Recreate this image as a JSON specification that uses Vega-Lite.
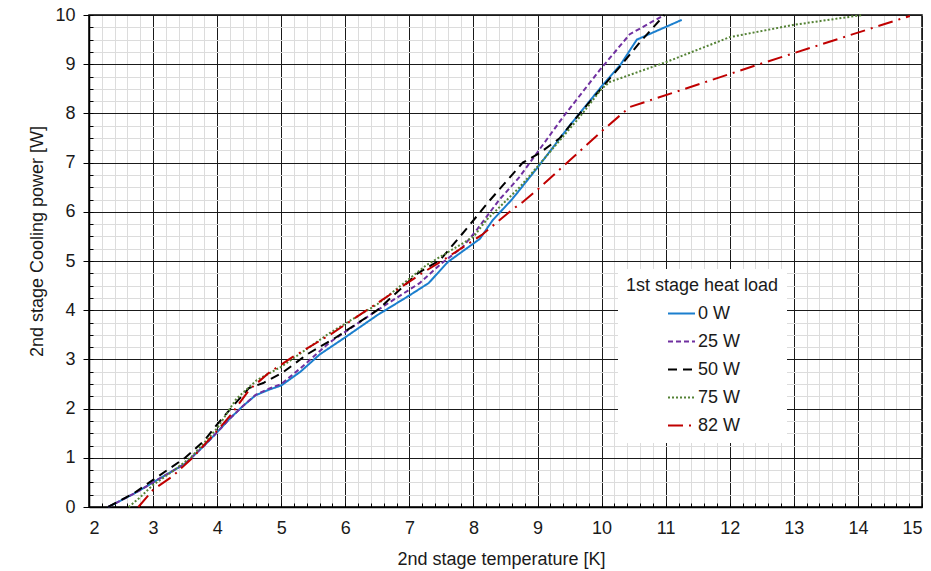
{
  "$schema": "https://vega.github.io/schema/vega-lite/v6.json",
  "width": 833,
  "height": 492,
  "autosize": {"type": "none"},
  "padding": {"left": 89, "top": 15, "right": 9, "bottom": 64},
  "background": "white",
  "config": {
    "font": "Liberation Sans",
    "view": {"stroke": "#000", "strokeWidth": 1.5}
  },
  "data": {
    "values": [
      {"s": "0 W", "o": 1, "t": 2.3, "p": 0},
      {"s": "0 W", "o": 2, "t": 2.7, "p": 0.27},
      {"s": "0 W", "o": 3, "t": 3.0, "p": 0.5},
      {"s": "0 W", "o": 4, "t": 3.5, "p": 0.88},
      {"s": "0 W", "o": 5, "t": 3.8, "p": 1.25},
      {"s": "0 W", "o": 6, "t": 4.0, "p": 1.52},
      {"s": "0 W", "o": 7, "t": 4.2, "p": 1.8},
      {"s": "0 W", "o": 8, "t": 4.4, "p": 2.05},
      {"s": "0 W", "o": 9, "t": 4.6, "p": 2.27},
      {"s": "0 W", "o": 10, "t": 4.8, "p": 2.38},
      {"s": "0 W", "o": 11, "t": 5.0, "p": 2.47},
      {"s": "0 W", "o": 12, "t": 5.3, "p": 2.75},
      {"s": "0 W", "o": 13, "t": 5.6, "p": 3.1},
      {"s": "0 W", "o": 14, "t": 6.0, "p": 3.45},
      {"s": "0 W", "o": 15, "t": 6.5, "p": 3.9},
      {"s": "0 W", "o": 16, "t": 7.0, "p": 4.3},
      {"s": "0 W", "o": 17, "t": 7.3, "p": 4.55},
      {"s": "0 W", "o": 18, "t": 7.6, "p": 4.98},
      {"s": "0 W", "o": 19, "t": 8.1, "p": 5.45},
      {"s": "0 W", "o": 20, "t": 8.3, "p": 5.83},
      {"s": "0 W", "o": 21, "t": 8.6, "p": 6.25},
      {"s": "0 W", "o": 22, "t": 9.0, "p": 6.9},
      {"s": "0 W", "o": 23, "t": 9.5, "p": 7.75},
      {"s": "0 W", "o": 24, "t": 10.0, "p": 8.55},
      {"s": "0 W", "o": 25, "t": 10.3, "p": 9.0},
      {"s": "0 W", "o": 26, "t": 10.55, "p": 9.5},
      {"s": "0 W", "o": 27, "t": 11.25, "p": 9.9},

      {"s": "25 W", "o": 1, "t": 2.3, "p": 0},
      {"s": "25 W", "o": 2, "t": 2.7, "p": 0.27},
      {"s": "25 W", "o": 3, "t": 3.0, "p": 0.5},
      {"s": "25 W", "o": 4, "t": 3.5, "p": 0.88},
      {"s": "25 W", "o": 5, "t": 3.8, "p": 1.25},
      {"s": "25 W", "o": 6, "t": 4.0, "p": 1.52},
      {"s": "25 W", "o": 7, "t": 4.2, "p": 1.8},
      {"s": "25 W", "o": 8, "t": 4.4, "p": 2.05},
      {"s": "25 W", "o": 9, "t": 4.6, "p": 2.28},
      {"s": "25 W", "o": 10, "t": 4.8, "p": 2.4},
      {"s": "25 W", "o": 11, "t": 5.0, "p": 2.5},
      {"s": "25 W", "o": 12, "t": 5.3, "p": 2.82},
      {"s": "25 W", "o": 13, "t": 5.76, "p": 3.35},
      {"s": "25 W", "o": 14, "t": 6.5, "p": 4.0},
      {"s": "25 W", "o": 15, "t": 7.16, "p": 4.55},
      {"s": "25 W", "o": 16, "t": 7.5, "p": 4.95},
      {"s": "25 W", "o": 17, "t": 7.83, "p": 5.28},
      {"s": "25 W", "o": 18, "t": 8.05, "p": 5.63},
      {"s": "25 W", "o": 19, "t": 8.4, "p": 6.24},
      {"s": "25 W", "o": 20, "t": 8.72, "p": 6.71},
      {"s": "25 W", "o": 21, "t": 9.4, "p": 7.93},
      {"s": "25 W", "o": 22, "t": 9.97, "p": 8.88},
      {"s": "25 W", "o": 23, "t": 10.44, "p": 9.61},
      {"s": "25 W", "o": 24, "t": 10.95, "p": 9.98},

      {"s": "50 W", "o": 1, "t": 2.3, "p": 0},
      {"s": "50 W", "o": 2, "t": 2.7, "p": 0.28},
      {"s": "50 W", "o": 3, "t": 3.0, "p": 0.55},
      {"s": "50 W", "o": 4, "t": 3.5, "p": 1.0},
      {"s": "50 W", "o": 5, "t": 3.8, "p": 1.35},
      {"s": "50 W", "o": 6, "t": 4.0, "p": 1.68},
      {"s": "50 W", "o": 7, "t": 4.3, "p": 2.13},
      {"s": "50 W", "o": 8, "t": 4.5, "p": 2.42},
      {"s": "50 W", "o": 9, "t": 4.72, "p": 2.52},
      {"s": "50 W", "o": 10, "t": 5.03, "p": 2.74},
      {"s": "50 W", "o": 11, "t": 5.4, "p": 3.1},
      {"s": "50 W", "o": 12, "t": 5.87, "p": 3.46},
      {"s": "50 W", "o": 13, "t": 6.5, "p": 4.0},
      {"s": "50 W", "o": 14, "t": 7.13, "p": 4.75},
      {"s": "50 W", "o": 15, "t": 7.48, "p": 5.02},
      {"s": "50 W", "o": 16, "t": 7.94, "p": 5.73},
      {"s": "50 W", "o": 17, "t": 8.22, "p": 6.18},
      {"s": "50 W", "o": 18, "t": 8.77, "p": 7.0},
      {"s": "50 W", "o": 19, "t": 9.04, "p": 7.2},
      {"s": "50 W", "o": 20, "t": 9.35, "p": 7.5},
      {"s": "50 W", "o": 21, "t": 9.66, "p": 8.0},
      {"s": "50 W", "o": 22, "t": 10.28, "p": 8.94},
      {"s": "50 W", "o": 23, "t": 10.6, "p": 9.45},
      {"s": "50 W", "o": 24, "t": 10.98, "p": 10.0},

      {"s": "75 W", "o": 1, "t": 2.62, "p": 0},
      {"s": "75 W", "o": 2, "t": 2.8, "p": 0.2},
      {"s": "75 W", "o": 3, "t": 3.0, "p": 0.45},
      {"s": "75 W", "o": 4, "t": 3.3, "p": 0.72},
      {"s": "75 W", "o": 5, "t": 3.6, "p": 1.02},
      {"s": "75 W", "o": 6, "t": 4.0, "p": 1.6},
      {"s": "75 W", "o": 7, "t": 4.3, "p": 2.2},
      {"s": "75 W", "o": 8, "t": 4.62, "p": 2.58},
      {"s": "75 W", "o": 9, "t": 5.0, "p": 2.85},
      {"s": "75 W", "o": 10, "t": 5.76, "p": 3.54},
      {"s": "75 W", "o": 11, "t": 6.5, "p": 4.12},
      {"s": "75 W", "o": 12, "t": 7.27, "p": 4.92},
      {"s": "75 W", "o": 13, "t": 8.0, "p": 5.49},
      {"s": "75 W", "o": 14, "t": 8.2, "p": 5.83},
      {"s": "75 W", "o": 15, "t": 8.52, "p": 6.24},
      {"s": "75 W", "o": 16, "t": 8.72, "p": 6.5},
      {"s": "75 W", "o": 17, "t": 9.0, "p": 6.92},
      {"s": "75 W", "o": 18, "t": 9.66, "p": 7.93},
      {"s": "75 W", "o": 19, "t": 10.0, "p": 8.5},
      {"s": "75 W", "o": 20, "t": 10.13, "p": 8.64},
      {"s": "75 W", "o": 21, "t": 11.02, "p": 9.05},
      {"s": "75 W", "o": 22, "t": 12.0, "p": 9.55},
      {"s": "75 W", "o": 23, "t": 13.0, "p": 9.8},
      {"s": "75 W", "o": 24, "t": 14.07, "p": 10.0},

      {"s": "82 W", "o": 1, "t": 2.77, "p": 0},
      {"s": "82 W", "o": 2, "t": 3.0, "p": 0.35},
      {"s": "82 W", "o": 3, "t": 3.3, "p": 0.62},
      {"s": "82 W", "o": 4, "t": 3.6, "p": 0.98},
      {"s": "82 W", "o": 5, "t": 4.0, "p": 1.55},
      {"s": "82 W", "o": 6, "t": 4.2, "p": 1.85},
      {"s": "82 W", "o": 7, "t": 4.5, "p": 2.38},
      {"s": "82 W", "o": 8, "t": 4.82, "p": 2.74},
      {"s": "82 W", "o": 9, "t": 5.18, "p": 3.05},
      {"s": "82 W", "o": 10, "t": 5.76, "p": 3.5},
      {"s": "82 W", "o": 11, "t": 6.38, "p": 4.04},
      {"s": "82 W", "o": 12, "t": 7.16, "p": 4.72},
      {"s": "82 W", "o": 13, "t": 7.6, "p": 5.08},
      {"s": "82 W", "o": 14, "t": 8.13, "p": 5.53},
      {"s": "82 W", "o": 15, "t": 8.6, "p": 6.04},
      {"s": "82 W", "o": 16, "t": 8.77, "p": 6.2},
      {"s": "82 W", "o": 17, "t": 9.0, "p": 6.45},
      {"s": "82 W", "o": 18, "t": 10.02, "p": 7.66},
      {"s": "82 W", "o": 19, "t": 10.44, "p": 8.13},
      {"s": "82 W", "o": 20, "t": 12.51, "p": 9.02},
      {"s": "82 W", "o": 21, "t": 14.81, "p": 9.98}
    ]
  },
  "layer": [
    {
      "mark": {"type": "line", "opacity": 0},
      "encoding": {
        "x": {
          "field": "t", "type": "quantitative",
          "scale": {"domain": [2, 15], "nice": false, "zero": false},
          "axis": {
            "orient": "bottom",
            "values": [2,2.2,2.4,2.6,2.8,3,3.2,3.4,3.6,3.8,4,4.2,4.4,4.6,4.8,5,5.2,5.4,5.6,5.8,6,6.2,6.4,6.6,6.8,7,7.2,7.4,7.6,7.8,8,8.2,8.4,8.6,8.8,9,9.2,9.4,9.6,9.8,10,10.2,10.4,10.6,10.8,11,11.2,11.4,11.6,11.8,12,12.2,12.4,12.6,12.8,13,13.2,13.4,13.6,13.8,14,14.2,14.4,14.6,14.8,15],
            "grid": true, "gridColor": "#dcdcdc", "gridWidth": 1,
            "labels": false, "ticks": true, "tickSize": -4, "tickColor": "#000", "tickWidth": 1,
            "domain": false, "title": null
          }
        },
        "y": {
          "field": "p", "type": "quantitative",
          "scale": {"domain": [0, 10], "nice": false},
          "axis": {
            "orient": "left",
            "values": [0,0.25,0.5,0.75,1,1.25,1.5,1.75,2,2.25,2.5,2.75,3,3.25,3.5,3.75,4,4.25,4.5,4.75,5,5.25,5.5,5.75,6,6.25,6.5,6.75,7,7.25,7.5,7.75,8,8.25,8.5,8.75,9,9.25,9.5,9.75,10],
            "grid": true, "gridColor": "#dcdcdc", "gridWidth": 1,
            "labels": false, "ticks": true, "tickSize": -4, "tickColor": "#000", "tickWidth": 1,
            "domain": false, "title": null
          }
        }
      }
    },
    {
      "mark": {"type": "line", "strokeWidth": 2},
      "encoding": {
        "x": {
          "field": "t", "type": "quantitative",
          "scale": {"domain": [2, 15], "nice": false, "zero": false},
          "axis": {
            "orient": "bottom",
            "values": [2,3,4,5,6,7,8,9,10,11,12,13,14,15],
            "grid": true, "gridColor": "#1a1a1a", "gridWidth": 1,
            "ticks": false, "labelPadding": 12,
            "labelFontSize": 18, "labelColor": "#1a1a1a",
            "domain": true, "domainColor": "#000", "domainWidth": 1.5,
            "title": "2nd stage temperature [K]",
            "titleFontSize": 18, "titleFontWeight": "normal", "titleColor": "#1a1a1a",
            "titleX": 412, "titleY": 57, "titleBaseline": "alphabetic", "titleAnchor": "middle", "titleAlign": "center"
          }
        },
        "y": {
          "field": "p", "type": "quantitative",
          "scale": {"domain": [0, 10], "nice": false},
          "axis": {
            "orient": "left",
            "values": [0,1,2,3,4,5,6,7,8,9,10],
            "grid": true, "gridColor": "#1a1a1a", "gridWidth": 1,
            "ticks": true, "tickSize": 6, "tickColor": "#000",
            "labelPadding": 8, "labelFontSize": 18, "labelColor": "#1a1a1a",
            "domain": true, "domainColor": "#000", "domainWidth": 1.5,
            "title": "2nd stage Cooling power [W]",
            "titleFontSize": 18, "titleFontWeight": "normal", "titleColor": "#1a1a1a",
            "titleX": -47, "titleY": 226, "titleAngle": -90, "titleAlign": "center", "titleBaseline": "alphabetic"
          }
        },
        "order": {"field": "o", "type": "quantitative"},
        "color": {
          "field": "s", "type": "nominal",
          "scale": {
            "domain": ["0 W", "25 W", "50 W", "75 W", "82 W"],
            "range": ["#1B7FCE", "#7030A0", "#000000", "#548235", "#C00000"]
          },
          "legend": {
            "title": "1st stage heat load",
            "orient": "none",
            "legendX": 529,
            "legendY": 254,
            "fillColor": "white",
            "padding": 8,
            "titleFontSize": 18,
            "titleFontWeight": "normal",
            "titleColor": "#1a1a1a",
            "titlePadding": 4,
            "labelFontSize": 18,
            "labelColor": "#1a1a1a",
            "symbolType": "stroke",
            "symbolSize": 729,
            "symbolStrokeWidth": 2,
            "symbolOffset": 41,
            "labelOffset": 2,
            "rowPadding": 4
          }
        },
        "strokeDash": {
          "field": "s", "type": "nominal",
          "scale": {
            "domain": ["0 W", "25 W", "50 W", "75 W", "82 W"],
            "range": [[1, 0], [5, 3], [9, 6], [2, 2], [15, 6, 2, 6]]
          },
          "legend": null
        }
      }
    }
  ],
  "resolve": {"axis": {"x": "independent", "y": "independent"}}
}
